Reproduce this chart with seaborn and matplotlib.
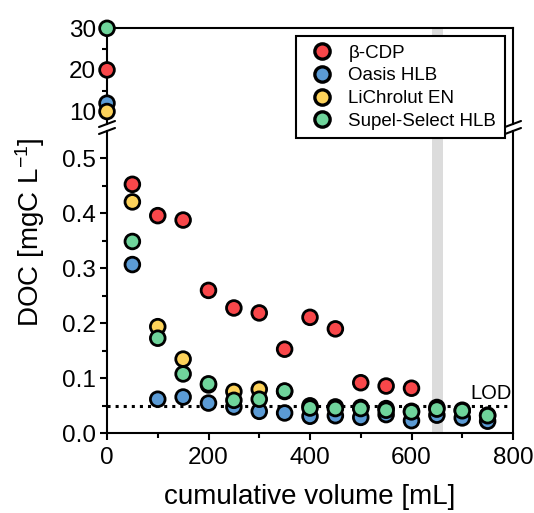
import numpy as np
import pandas as pd
import matplotlib
matplotlib.use("Agg")
import matplotlib.pyplot as plt
from matplotlib.lines import Line2D
import seaborn as sns

# cumulative volume steps [mL]
volume = [0, 50, 100, 150, 200, 250, 300, 350, 400, 450, 500, 550, 600, 650, 700, 750]

# DOC [mgC/L] for each sorbent
beta_cdp = [20, 0.453, 0.396, 0.388, 0.260, 0.228, 0.219, 0.153, 0.211, 0.190,
            0.092, 0.086, 0.082, np.nan, np.nan, np.nan]
oasis_hlb = [12, 0.307, 0.062, 0.066, 0.055, 0.048, 0.040, 0.037, 0.031, 0.032,
             0.029, 0.034, 0.023, 0.033, 0.028, 0.022]
lichrolut_en = [10, 0.421, 0.194, 0.135, 0.088, 0.076, 0.080, 0.076, 0.050, 0.048,
                0.047, 0.045, 0.040, 0.047, 0.042, 0.033]
supel_select = [30, 0.349, 0.173, 0.108, 0.090, 0.060, 0.062, 0.077, 0.046, 0.045,
                0.045, 0.042, 0.039, 0.044, 0.041, 0.032]

series_names = ["β-CDP", "Oasis HLB", "LiChrolut EN", "Supel-Select HLB"]
series_values = [beta_cdp, oasis_hlb, lichrolut_en, supel_select]
colors = ["#F8474A", "#5B9BD5", "#FDD25A", "#6FD49B"]

lod = 0.05
blank_band = (641, 662)

df = pd.concat(
    [pd.DataFrame({"volume": volume, "doc": vals, "sorbent": name})
     for name, vals in zip(series_names, series_values)],
    ignore_index=True,
).dropna()

sns.set_style("ticks")
plt.rcParams["font.family"] = ["Liberation Sans", "DejaVu Sans"]
plt.rcParams["mathtext.default"] = "regular"
plt.rcParams["text.color"] = "black"
plt.rcParams["xtick.color"] = "black"
plt.rcParams["ytick.color"] = "black"
plt.rcParams["axes.labelcolor"] = "black"

W, H = 534, 513
fig = plt.figure(figsize=(W / 100, H / 100), dpi=100)

def frac_x(px):
    return px / W

def frac_y(py):
    return (H - py) / H

left, right = 107, 513
lo_top, lo_bottom = 131, 433.3
hi_top, hi_bottom = 28.3, 124
ax_lo = fig.add_axes([frac_x(left), frac_y(lo_bottom), frac_x(right - left), (lo_bottom - lo_top) / H])
ax_hi = fig.add_axes([frac_x(left), frac_y(hi_bottom), frac_x(right - left), (hi_bottom - hi_top) / H])

palette = dict(zip(series_names, colors))
scatter_kw = dict(s=112, edgecolor="black", linewidth=2.0, clip_on=False, zorder=5,
                  legend=False, palette=palette, hue_order=series_names)

sns.scatterplot(data=df[df["doc"] < 1], x="volume", y="doc", hue="sorbent", ax=ax_lo, **scatter_kw)
sns.scatterplot(data=df[df["doc"] >= 1], x="volume", y="doc", hue="sorbent", ax=ax_hi, **scatter_kw)

spine_lw = 1.5
for ax in (ax_lo, ax_hi):
    ax.set_xlim(0, 800)
    ax.axvspan(*blank_band, color="#DCDCDC", lw=0, zorder=0)
    for sp in ax.spines.values():
        sp.set_linewidth(spine_lw)
        sp.set_color("black")
    ax.set_xlabel("")
    ax.set_ylabel("")

tick_size = 17.5

# lower panel
ax_lo.set_ylim(0, 0.55)
ax_lo.spines["top"].set_visible(False)
ax_lo.set_yticks([0.0, 0.1, 0.2, 0.3, 0.4, 0.5])
ax_lo.set_yticks(np.arange(0.05, 0.55, 0.1), minor=True)
ax_lo.set_xticks([0, 200, 400, 600, 800])
ax_lo.set_xticks([100, 300, 500, 700], minor=True)
ax_lo.yaxis.set_major_formatter(matplotlib.ticker.FormatStrFormatter("%.1f"))
ax_lo.tick_params(axis="both", which="major", direction="out", length=5, width=1.5,
                  labelsize=tick_size, pad=3)
ax_lo.tick_params(axis="x", which="major", pad=5)
ax_lo.tick_params(axis="both", which="minor", direction="out", length=3.5, width=1.5)
ax_lo.axhline(lod, color="black", ls=":", lw=2.2, zorder=1)
ax_lo.text(797, lod + 0.006, "LOD", ha="right", va="bottom", fontsize=14.5)

# upper panel
ax_hi.set_ylim(7.0, 30)
ax_hi.spines["bottom"].set_visible(False)
ax_hi.set_yticks([10, 20, 30])
ax_hi.set_yticks([15, 25], minor=True)
ax_hi.set_xticks([])
ax_hi.set_xticks([], minor=True)
ax_hi.tick_params(axis="y", which="major", direction="out", length=5, width=1.5,
                  labelsize=tick_size, pad=3)
ax_hi.tick_params(axis="y", which="minor", direction="out", length=3.5, width=1.5)

# axis-break slashes on both vertical spines
for xp in (left, right):
    for yp in (hi_bottom, lo_top):
        fig.add_artist(Line2D([frac_x(xp - 8), frac_x(xp + 8)],
                              [frac_y(yp + 3), frac_y(yp - 3)],
                              color="black", lw=1.5, transform=fig.transFigure))

fig.text(frac_x(30), frac_y(232), "DOC [mgC L$^{-1}$]", rotation=90,
         ha="center", va="center", fontsize=20)
fig.text(frac_x(310), frac_y(497), "cumulative volume [mL]",
         ha="center", va="center", fontsize=20)

handles = [Line2D([], [], ls="none", marker="o", markersize=11, markerfacecolor=c,
                  markeredgecolor="black", markeredgewidth=2.4) for c in colors]
leg = fig.legend(handles, series_names, loc="upper left",
                 bbox_to_anchor=(frac_x(296), frac_y(36)), fontsize=13.5,
                 frameon=True, fancybox=False, framealpha=1, edgecolor="black",
                 borderpad=0.45, labelspacing=0.3, handlelength=1.9,
                 handletextpad=0.45, borderaxespad=0)
leg.get_frame().set_linewidth(1.5)

fig.savefig("out.png", dpi=100)
